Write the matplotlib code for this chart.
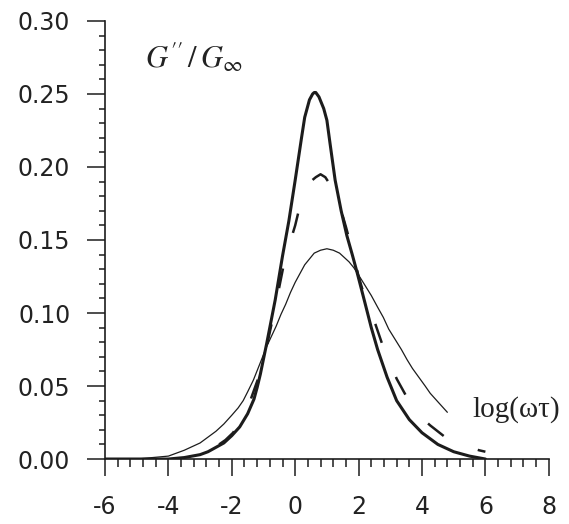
import matplotlib
matplotlib.use('Agg')
import matplotlib.pyplot as plt
from matplotlib.ticker import MultipleLocator

# loss modulus curves, G''/G_inf against log(omega*tau)
log_wt_a = [-6.0, -4.0, -3.5, -3.0, -2.75, -2.5, -2.25, -2.0, -1.75, -1.5, -1.3, -1.2, -1.1, -0.9,
            -0.63, -0.4, -0.2, 0.0, 0.2, 0.3, 0.45, 0.55, 0.6, 0.65, 0.75, 0.9, 1.0, 1.1, 1.26,
            1.45, 1.63, 1.8, 1.95, 2.2, 2.4, 2.6, 2.9, 3.2, 3.6, 4.0, 4.5, 5.0, 5.5, 6.0]
g_a = [0.000, 0.000, 0.001, 0.003, 0.005, 0.008, 0.011, 0.016, 0.022, 0.031, 0.041, 0.049, 0.058, 0.079,
       0.109, 0.139, 0.163, 0.191, 0.220, 0.234, 0.246, 0.250, 0.251, 0.251, 0.248, 0.240, 0.232, 0.216,
       0.191, 0.170, 0.153, 0.140, 0.128, 0.107, 0.090, 0.075, 0.056, 0.040, 0.027, 0.018, 0.010, 0.005,
       0.002, 0.000]

log_wt_b = [-5.0, -4.5, -4.0, -3.5, -3.0, -2.5, -2.25, -2.0, -1.8, -1.64, -1.5, -1.32, -1.1, -0.9,
            -0.75, -0.6, -0.45, -0.3, -0.15, 0.0, 0.15, 0.3, 0.45, 0.6, 0.8, 1.0, 1.2, 1.4, 1.55,
            1.7, 1.85, 2.0, 2.2, 2.4, 2.6, 2.78, 2.95, 3.15, 3.35, 3.53, 3.7, 3.9, 4.1, 4.26, 4.55, 4.8]
g_b = [0.000, 0.001, 0.002, 0.006, 0.011, 0.019, 0.024, 0.030, 0.035, 0.040, 0.046, 0.054, 0.066, 0.077,
       0.084, 0.091, 0.099, 0.106, 0.114, 0.121, 0.127, 0.133, 0.137, 0.141, 0.143, 0.144, 0.143, 0.141,
       0.138, 0.135, 0.131, 0.126, 0.119, 0.112, 0.104, 0.097, 0.089, 0.082, 0.075, 0.068, 0.062, 0.056,
       0.050, 0.045, 0.038, 0.032]

log_wt_c = [-2.4, -2.2, -1.96, -1.7, -1.4, -1.17, -0.9, -0.7, -0.5, -0.38, -0.07, 0.0, 0.1, 0.2, 0.4,
            0.54, 0.65, 0.8, 0.95, 1.1, 1.25, 1.48, 1.6, 1.8, 2.0, 2.3, 2.52, 2.74, 3.2, 3.53, 3.9,
            4.26, 4.73, 5.2, 5.8, 6.0]
g_c = [0.010, 0.013, 0.018, 0.027, 0.041, 0.055, 0.077, 0.097, 0.118, 0.131, 0.155, 0.160, 0.169, 0.176,
       0.187, 0.191, 0.193, 0.195, 0.193, 0.188, 0.180, 0.168, 0.159, 0.143, 0.125, 0.103, 0.093, 0.079,
       0.055, 0.042, 0.030, 0.023, 0.015, 0.010, 0.006, 0.005]

x_ticks = [-6, -4, -2, 0, 2, 4, 6, 8]
y_ticks = [0.00, 0.05, 0.10, 0.15, 0.20, 0.25, 0.30]

ink = '#1c1c1c'
plt.rcParams['mathtext.fontset'] = 'stix'

fig = plt.figure(figsize=(5.69, 5.24), dpi=100)
ax = fig.add_axes([0.1845, 0.124, 0.780, 0.836])

ax.plot(log_wt_b, g_b, color=ink, lw=0.9, solid_capstyle='round', solid_joinstyle='round')
ax.plot(log_wt_c, g_c, color=ink, lw=1.8, dashes=(8, 14.8), dash_joinstyle='round')
ax.plot(log_wt_a, g_a, color=ink, lw=2.2, solid_capstyle='round', solid_joinstyle='round')

ax.set_xlim(-6, 8)
ax.set_ylim(0, 0.30)
ax.set_xticks(x_ticks)
ax.set_yticks(y_ticks)
ax.set_xticklabels(['-6', '-4', '-2', '0', '2', '4', '6', '8'])
ax.set_yticklabels(['%.2f' % v for v in y_ticks])
ax.xaxis.set_minor_locator(MultipleLocator(0.4))
ax.yaxis.set_minor_locator(MultipleLocator(0.01))

for side in ['top', 'right']:
    ax.spines[side].set_visible(False)
for side in ['left', 'bottom']:
    ax.spines[side].set_linewidth(1.2)
    ax.spines[side].set_color(ink)

ax.tick_params(axis='both', which='both', direction='out', color=ink, width=1.1)
ax.tick_params(axis='y', which='major', length=13, pad=12, labelsize=17, labelcolor='#222222')
ax.tick_params(axis='y', which='minor', length=4.5)
ax.tick_params(axis='x', which='major', length=12, pad=14, labelsize=17, labelcolor='#222222')
ax.tick_params(axis='x', which='minor', length=6)

ax.text(-4.73, 0.268, r'$G^{\prime\prime}\,/\,G_{\infty}$', fontsize=22, color='#222222',
        ha='left', va='baseline')
ax.text(5.58, 0.0336, 'log(ωτ)', family='Liberation Serif', fontsize=21, color='#222222',
        ha='left', va='center')

fig.savefig('out.png', dpi=100)
